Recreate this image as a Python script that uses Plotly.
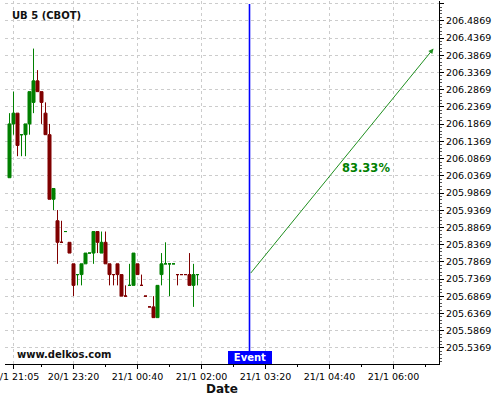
import plotly.graph_objects as go

# ---- data (5-minute bars, index positions on x) ----
bar_index = list(range(48))
opens = [206.03125, 206.1875, 206.21875, 206.15625, 206.15625, 206.1875, 206.25, 206.3125,
         206.28125, 206.21875, 206.15625, 205.96875, 205.90625, 205.84375, 205.875, 205.84375,
         205.78125, 205.75, 205.75, 205.78125, 205.8125, 205.8125, 205.875, 205.8125,
         205.84375, 205.78125, 205.75, 205.78125, 205.75, 205.6875, 205.71875, 205.71875,
         205.78125, 205.71875, 205.6875, 205.65625, 205.65625, 205.625, 205.75, 205.78125,
         205.78125, 205.78125, 205.75, 205.75, 205.75, 205.75, 205.71875, 205.75]
highs = [206.21875, 206.28125, 206.21875, 206.15625, 206.1875, 206.28125, 206.40625, 206.34375,
         206.28125, 206.25, 206.1875, 206.0, 205.9375, 205.90625, 205.875, 205.84375,
         205.78125, 205.75, 205.78125, 205.8125, 205.8125, 205.875, 205.875, 205.875,
         205.875, 205.78125, 205.75, 205.78125, 205.75, 205.71875, 205.78125, 205.8125,
         205.78125, 205.75, 205.6875, 205.65625, 205.6875, 205.71875, 205.8125, 205.84375,
         205.78125, 205.78125, 205.75, 205.75, 205.75, 205.8125, 205.78125, 205.75]
lows = [206.03125, 206.15625, 206.09375, 206.09375, 206.09375, 206.15625, 206.21875, 206.28125,
        206.1875, 206.15625, 205.96875, 205.9375, 205.78125, 205.84375, 205.875, 205.8125,
        205.6875, 205.71875, 205.71875, 205.78125, 205.8125, 205.78125, 205.8125, 205.8125,
        205.78125, 205.71875, 205.71875, 205.71875, 205.6875, 205.6875, 205.71875, 205.71875,
        205.75, 205.71875, 205.6875, 205.65625, 205.625, 205.625, 205.71875, 205.78125,
        205.6875, 205.78125, 205.71875, 205.75, 205.75, 205.71875, 205.65625, 205.71875]
closes = [206.1875, 206.21875, 206.125, 206.15625, 206.1875, 206.28125, 206.3125, 206.28125,
          206.25, 206.15625, 205.96875, 206.0, 205.84375, 205.84375, 205.875, 205.8125,
          205.71875, 205.75, 205.78125, 205.8125, 205.8125, 205.875, 205.84375, 205.84375,
          205.78125, 205.75, 205.75, 205.75, 205.6875, 205.6875, 205.71875, 205.8125,
          205.75, 205.71875, 205.6875, 205.65625, 205.625, 205.71875, 205.78125, 205.78125,
          205.78125, 205.78125, 205.75, 205.75, 205.75, 205.71875, 205.75, 205.75]

tick_positions = [1, 16, 32, 48, 64, 80, 96]
tick_labels = ["20/1 21:05", "20/1 23:20", "21/1 00:40", "21/1 02:00",
               "21/1 03:20", "21/1 04:40", "21/1 06:00"]
minor_positions = [8, 24, 40, 56, 72, 88, 104]

event_index = 60
arrow_start = (60, 205.75)
arrow_end = (106, 206.40625)
prob_text = "83.33%"
prob_pos = (89.1, 206.0596)

y_tick0 = 205.5369
y_dtick = 0.05
y_range = [205.4904, 206.5444]
x_range = [-1.125, 107.375]

FONT = "DejaVu Sans"
GREEN = "#008000"
RED = "#800000"

fig = go.Figure()
fig.add_trace(go.Candlestick(
    x=bar_index, open=opens, high=highs, low=lows, close=closes,
    increasing=dict(line=dict(color=GREEN, width=1), fillcolor=GREEN),
    decreasing=dict(line=dict(color=RED, width=1), fillcolor=RED),
    whiskerwidth=0, hoverinfo="skip", showlegend=False,
))

# event vertical line
fig.add_shape(type="line", xref="x", yref="y", x0=event_index, x1=event_index,
              y0=y_range[0], y1=206.5357, line=dict(color="#0000ff", width=1.6), layer="above")

# arrow
fig.add_annotation(x=arrow_end[0], y=arrow_end[1], ax=arrow_start[0], ay=arrow_start[1],
                   xref="x", yref="y", axref="x", ayref="y", text="", showarrow=True,
                   arrowhead=2, arrowsize=1, arrowwidth=1, arrowcolor="#1f8f1f")
fig.add_annotation(x=prob_pos[0], y=prob_pos[1], xref="x", yref="y", text="<b>%s</b>" % prob_text,
                   showarrow=False, font=dict(family=FONT, size=11.5, color=GREEN))

# event label
fig.add_annotation(x=event_index, y=0, xref="x", yref="paper", yanchor="bottom",
                   text="<b>Event</b>", showarrow=False, bgcolor="#0000ff",
                   bordercolor="#0000ff", borderwidth=1, borderpad=0, width=42, height=11,
                   font=dict(family=FONT, size=10, color="white"))

# title and watermark
fig.add_annotation(x=0.0115, y=0.96, xref="paper", yref="paper", xanchor="left", yanchor="middle",
                   text="<b>UB 5 (CBOT)</b>", showarrow=False,
                   font=dict(family=FONT, size=10, color="#111111"))
fig.add_annotation(x=0.023, y=0.0275, xref="paper", yref="paper", xanchor="left", yanchor="middle",
                   text="<b>www.delkos.com</b>", showarrow=False,
                   font=dict(family=FONT, size=10, color="#111111"))

fig.update_layout(
    width=500, height=400,
    margin=dict(l=5, r=61, t=1, b=36),
    paper_bgcolor="white", plot_bgcolor="white",
    font=dict(family=FONT, size=9.5, color="#000000"),
    boxgap=0.25, boxgroupgap=0,
    showlegend=False,
    xaxis=dict(
        range=x_range, rangeslider=dict(visible=False), automargin=False,
        tickmode="array", tickvals=tick_positions, ticktext=tick_labels,
        ticks="outside", ticklen=4, tickcolor="#000", tickwidth=1,
        minor=dict(tickmode="array", tickvals=minor_positions, ticks="outside",
                   ticklen=2, tickcolor="#000", showgrid=False),
        showgrid=True, gridcolor="#cccccc", griddash="3px,3px", gridwidth=1,
        showline=True, linecolor="#000", linewidth=1, mirror=False,
        zeroline=False, ticklabeloverflow="allow",
        tickfont=dict(family=FONT, size=9.5, color="#000"),
        title=dict(text="<b>Date</b>", font=dict(family=FONT, size=12, color="#111"), standoff=2),
    ),
    yaxis=dict(
        range=y_range, side="right", automargin=False,
        tickmode="linear", tick0=y_tick0, dtick=y_dtick, tickformat=".4f",
        ticks="outside", ticklen=4, tickcolor="#000", tickwidth=1,
        minor=dict(dtick=0.01, tick0=y_tick0, ticks="outside", ticklen=2,
                   tickcolor="#555", showgrid=False),
        showgrid=True, gridcolor="#cccccc", griddash="3px,3px", gridwidth=1,
        showline=True, linecolor="#000", linewidth=1, mirror=False,
        zeroline=False,
        tickfont=dict(family=FONT, size=9.5, color="#000"),
    ),
)

fig.write_html("out.html", config={"displayModeBar": False},
               post_script="document.body.style.margin='0';document.body.style.padding='0';")
